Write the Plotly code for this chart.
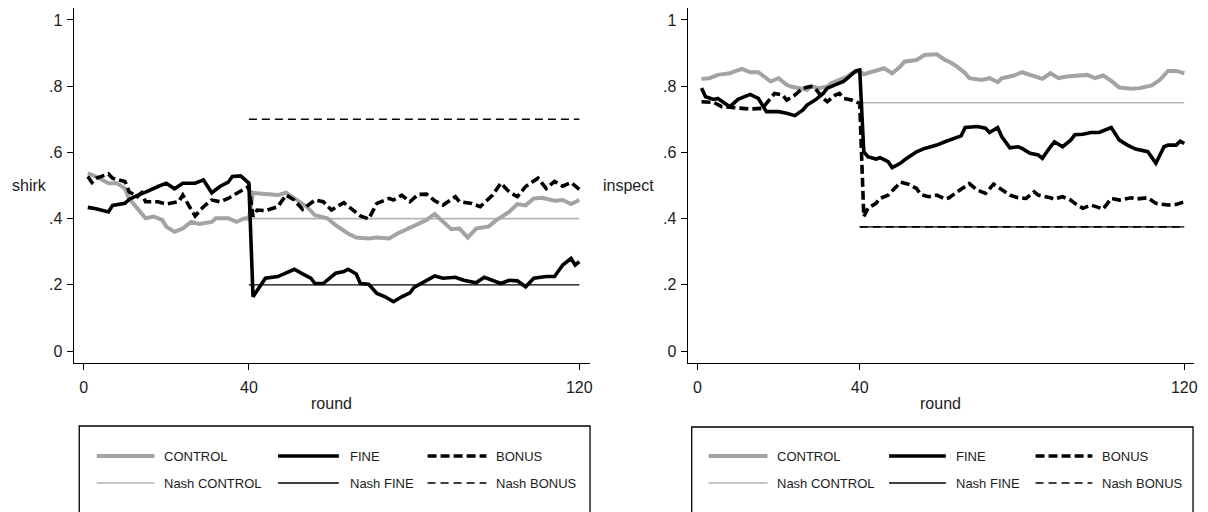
import plotly.graph_objects as go

# ---------------- data ----------------
# Left panel: shirk rate by round
shirk_control_r = [1,3,6,8,10,11,13,15,17,19,20,22,24,26,28,31,32,35,37,39,40,
                   41,44,47,49,52,54,56,59,61,64,66,69,71,74,76,79,81,83,85,87,89,
                   91,93,95,98,100,103,105,107,109,111,114,116,118,120]
shirk_control = [.537,.527,.507,.507,.491,.461,.431,.401,.406,.396,.376,.36,.37,.39,.384,.39,.401,.401,.39,.401,.400,
                 .478,.474,.471,.478,.451,.436,.41,.401,.38,.355,.343,.34,.343,.34,.355,.374,.384,.396,.414,.39,.368,
                 .37,.343,.37,.376,.396,.42,.444,.44,.461,.463,.454,.456,.444,.456]

shirk_fine_r = [1,3,6,7,10,11,14,15,18,20,22,24,27,29,31,33,35,36,38,40,
                41,43,44,47,49,51,53,55,56,58,60,61,63,64,66,67,69,71,73,75,
                77,79,80,83,85,87,90,92,95,97,99,101,103,105,107,109,112,114,116,118,
                119,120]
shirk_fine = [.434,.43,.42,.44,.446,.458,.476,.48,.497,.507,.49,.507,.507,.517,.478,.497,.51,.527,.529,.507,
              .164,.204,.22,.225,.237,.247,.233,.22,.204,.204,.225,.235,.24,.247,.233,.204,.202,.174,.164,.149,
              .164,.176,.192,.214,.227,.22,.223,.214,.206,.223,.214,.204,.214,.212,.194,.22,.225,.225,.26,.28,
              .26,.27]

shirk_bonus_r = [1,2,3,6,7,10,11,13,14,15,18,20,23,24,26,27,29,31,33,35,
                 37,39,40,41,42,44,47,49,51,53,56,58,60,61,63,66,67,69,71,74,
                 75,77,79,81,83,85,87,90,91,94,96,99,101,103,105,107,110,112,114,116,
                 118,120]
shirk_bonus = [.527,.509,.522,.535,.522,.512,.481,.466,.478,.451,.451,.444,.451,.471,.428,.408,.436,.456,.451,.461,
               .476,.491,.497,.406,.426,.424,.436,.471,.456,.428,.456,.451,.426,.434,.448,.418,.408,.399,.446,.461,
               .456,.471,.451,.473,.474,.454,.441,.466,.451,.446,.436,.471,.507,.481,.466,.497,.522,.491,.512,.498,
               .509,.488]

# Right panel: inspection rate by round
insp_control_r = [1,3,5,8,9,11,13,15,17,18,20,22,23,25,27,28,30,32,33,35,
                  37,38,40,41,43,45,46,48,50,51,54,56,59,61,62,64,66,67,70,72,
                  74,75,78,80,83,85,87,89,91,93,96,98,100,102,104,107,109,112,114,116,
                  118,120]
insp_control = [.822,.824,.834,.839,.844,.852,.842,.842,.824,.814,.824,.804,.799,.794,.789,.799,.794,.799,.809,.819,
                .829,.839,.846,.836,.842,.849,.854,.839,.859,.874,.879,.894,.896,.879,.874,.859,.839,.824,.819,.824,
                .812,.824,.832,.842,.829,.822,.839,.824,.829,.832,.834,.824,.832,.816,.796,.792,.794,.802,.819,.846,
                .846,.839]

insp_fine_r = [1,2,4,5,8,10,13,15,17,18,20,22,24,26,27,29,31,32,34,36,
               37,39,40,41,42,44,45,47,48,50,51,53,54,56,58,59,61,62,64,65,
               66,69,71,72,74,75,77,79,80,82,84,85,87,88,90,92,93,95,97,99,
               102,104,106,108,111,112,113,115,116,118,119,120]
insp_fine = [.794,.768,.76,.763,.738,.76,.775,.763,.723,.723,.723,.718,.711,.728,.743,.758,.778,.794,.804,.814,
             .824,.846,.849,.602,.587,.58,.584,.572,.554,.567,.577,.592,.602,.612,.617,.622,.632,.637,.645,.65,
             .675,.678,.673,.66,.675,.648,.614,.617,.612,.597,.592,.582,.617,.632,.617,.637,.653,.655,.66,.66,
             .675,.637,.622,.61,.602,.584,.567,.617,.622,.622,.634,.627]

insp_bonus_r = [1,4,6,9,11,13,16,19,21,22,24,26,28,29,31,32,34,35,36,38,
                40,41,42,44,45,47,49,50,52,54,55,57,59,61,62,64,65,67,69,71,
                73,75,77,79,81,83,84,87,88,90,92,93,95,97,100,102,104,107,108,111,
                113,116,118,120]
insp_bonus = [.753,.751,.738,.735,.735,.731,.733,.778,.773,.758,.773,.794,.799,.794,.763,.753,.773,.778,.763,.758,
              .748,.406,.431,.446,.461,.471,.496,.51,.504,.491,.473,.466,.471,.459,.463,.481,.491,.506,.486,.476,
              .504,.486,.471,.463,.461,.481,.471,.463,.459,.466,.456,.446,.431,.441,.429,.461,.456,.463,.459,.463,
              .446,.441,.443,.451]

# Nash equilibrium benchmarks (rounds 40-120)
nash_rounds = [40, 120]
nash_shirk = {"CONTROL": 0.4, "FINE": 0.2, "BONUS": 0.7}
nash_inspect = {"CONTROL": 0.75, "FINE": 0.375, "BONUS": 0.375}

x_ticks = [0, 40, 120]
y_ticks = [0, 0.2, 0.4, 0.6, 0.8, 1]
y_ticklabels = ["0", ".2", ".4", ".6", ".8", "1"]
legend_labels = ["CONTROL", "FINE", "BONUS", "Nash CONTROL", "Nash FINE", "Nash BONUS"]

# ---------------- styles ----------------
W, H = 1208, 512
GRAY = "#a3a3a3"
NGRAY = "#b4b4b4"
BLACK = "#000000"
FONT = "Liberation Sans, Arial, sans-serif"
TXT = "#1c1c1c"

style = {
    "CONTROL": dict(color=GRAY, width=4, dash="solid"),
    "FINE": dict(color=BLACK, width=3.6, dash="solid"),
    "BONUS": dict(color=BLACK, width=3.6, dash="9px,4px"),
    "Nash CONTROL": dict(color=NGRAY, width=1.6, dash="solid"),
    "Nash FINE": dict(color=BLACK, width=1.4, dash="solid"),
    "Nash BONUS": dict(color=BLACK, width=1.6, dash="8px,5px"),
}

fig = go.Figure()

def add_panel(xa, ya, ctrl_r, ctrl, fine_r, fine, bon_r, bon, nash):
    fig.add_trace(go.Scatter(x=nash_rounds, y=[nash["CONTROL"]] * 2, mode="lines",
                             line=style["Nash CONTROL"], xaxis=xa, yaxis=ya, showlegend=False))
    fig.add_trace(go.Scatter(x=nash_rounds, y=[nash["FINE"]] * 2, mode="lines",
                             line=style["Nash FINE"], xaxis=xa, yaxis=ya, showlegend=False))
    fig.add_trace(go.Scatter(x=nash_rounds, y=[nash["BONUS"]] * 2, mode="lines",
                             line=style["Nash BONUS"], xaxis=xa, yaxis=ya, showlegend=False))
    fig.add_trace(go.Scatter(x=ctrl_r, y=ctrl, mode="lines", line=style["CONTROL"],
                             xaxis=xa, yaxis=ya, showlegend=False))
    fig.add_trace(go.Scatter(x=fine_r, y=fine, mode="lines", line=style["FINE"],
                             xaxis=xa, yaxis=ya, showlegend=False))
    fig.add_trace(go.Scatter(x=bon_r, y=bon, mode="lines", line=style["BONUS"],
                             xaxis=xa, yaxis=ya, showlegend=False))

add_panel("x", "y", shirk_control_r, shirk_control, shirk_fine_r, shirk_fine,
          shirk_bonus_r, shirk_bonus, nash_shirk)
add_panel("x2", "y2", insp_control_r, insp_control, insp_fine_r, insp_fine,
          insp_bonus_r, insp_bonus, nash_inspect)

def px_x(p):
    return p / W

def px_y(p):
    return 1 - p / H

axis_common = dict(showline=True, linecolor=BLACK, linewidth=1.4, ticks="outside",
                   ticklen=6, tickwidth=1.3, tickcolor=BLACK, showgrid=False, zeroline=False,
                   tickfont=dict(family=FONT, size=16, color=TXT))

y_dom = [px_y(363), px_y(8)]
fig.update_layout(
    width=W, height=H, autosize=False,
    margin=dict(l=0, r=0, t=0, b=0),
    paper_bgcolor="white", plot_bgcolor="white",
    xaxis=dict(domain=[px_x(74), px_x(592)], range=[-2.4, 122.6], tickvals=x_ticks,
               anchor="y", ticklabelstandoff=4, **axis_common),
    yaxis=dict(domain=y_dom, range=[-0.036, 1.036], tickvals=y_ticks, ticktext=y_ticklabels,
               anchor="x", ticklabelstandoff=1, **axis_common),
    xaxis2=dict(domain=[px_x(690), px_x(1198)], range=[-2.4, 122.4], tickvals=x_ticks,
                anchor="y2", ticklabelstandoff=4, **axis_common),
    yaxis2=dict(domain=y_dom, range=[-0.036, 1.036], tickvals=y_ticks, ticktext=y_ticklabels,
                anchor="x2", ticklabelstandoff=1, **axis_common),
    showlegend=False,
)

annotations = []
shapes = []
# axis titles
for txt, xc in [("shirk", 30), ("inspect", 631)]:
    annotations.append(dict(text=txt, x=px_x(xc), y=px_y(185), xref="paper", yref="paper",
                            showarrow=False, xanchor="center", yanchor="middle",
                            font=dict(family=FONT, size=16, color=TXT)))
for xc in [333, 944]:
    annotations.append(dict(text="round", x=px_x(xc), y=px_y(403), xref="paper", yref="paper",
                            showarrow=False, xanchor="center", yanchor="middle",
                            font=dict(family=FONT, size=16, color=TXT)))

# legend boxes (manual, Stata style)
legend_boxes = [
    dict(left=79.5, right=592, top=426,
         cols=[(97, 155, 163), (279, 340, 349), (429, 488, 496)]),
    dict(left=694, right=1197, top=427,
         cols=[(711, 770, 778), (892, 949, 957), (1039, 1096, 1104)]),
]
rows = [456, 483]
for box in legend_boxes:
    shapes.append(dict(type="rect", xref="paper", yref="paper",
                       x0=px_x(box["left"]), x1=px_x(box["right"]),
                       y0=-0.05, y1=px_y(box["top"]),
                       line=dict(color=BLACK, width=1.3), fillcolor="rgba(0,0,0,0)"))
    for i, lab in enumerate(legend_labels):
        r, c = divmod(i, 3)
        x0, x1, xt = box["cols"][c]
        st = style[lab]
        shapes.append(dict(type="line", xref="paper", yref="paper",
                           x0=px_x(x0), x1=px_x(x1), y0=px_y(rows[r]), y1=px_y(rows[r]),
                           line=dict(color=st["color"], width=st["width"], dash=st["dash"])))
        annotations.append(dict(text=lab, x=px_x(xt), y=px_y(rows[r]), xref="paper", yref="paper",
                                showarrow=False, xanchor="left", yanchor="middle",
                                font=dict(family=FONT, size=13, color=TXT)))

fig.update_layout(annotations=annotations, shapes=shapes)

fig.write_html("out.html",
               config={"displayModeBar": False},
               post_script="document.body.style.margin='0';document.body.style.overflow='hidden';")
